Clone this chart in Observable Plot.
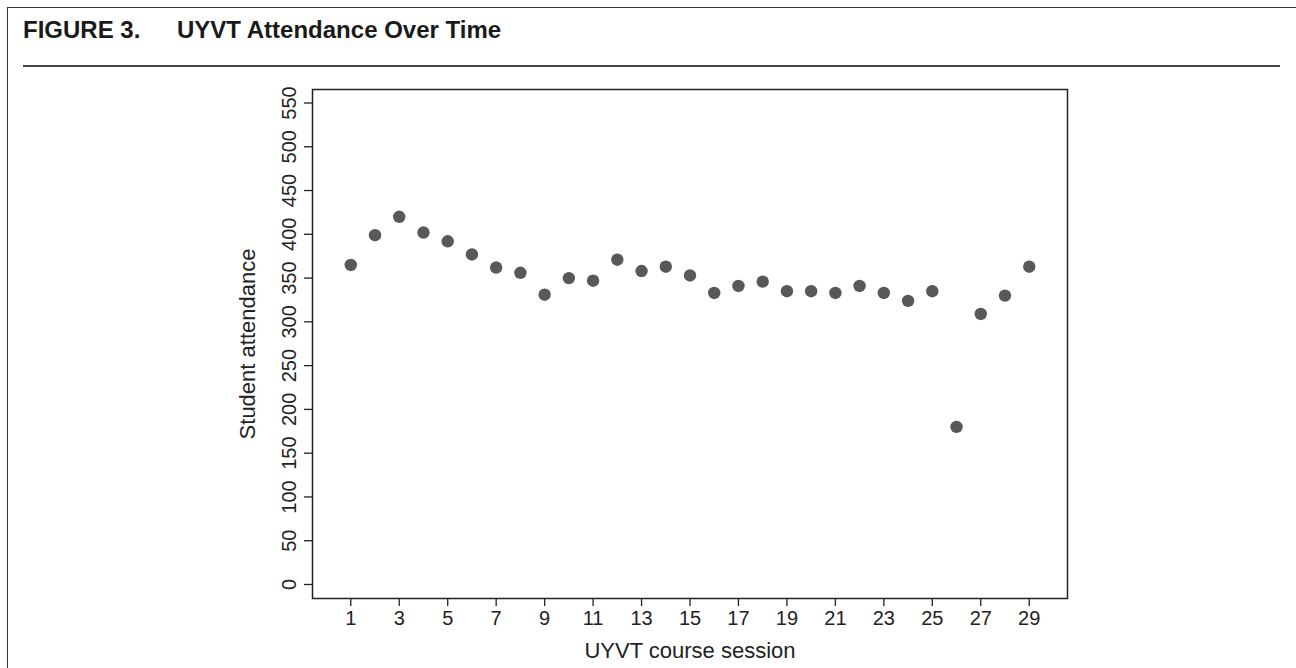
<!DOCTYPE html>
<html><head><meta charset="utf-8">
<script src="https://cdn.jsdelivr.net/npm/d3@7"></script>
<script src="https://cdn.jsdelivr.net/npm/@observablehq/plot@0.6"></script>
<style>
body{margin:0;background:#fff;font-family:"Liberation Sans",Arial,Helvetica,sans-serif;}
#wrap{position:relative;width:1296px;height:668px;overflow:hidden;}
.frame{position:absolute;left:7px;top:7px;right:0;bottom:-5px;border-left:1.5px solid #333;border-top:1.5px solid #333;}
.title{position:absolute;top:18px;font-size:24px;line-height:1;font-weight:bold;color:#1a1a1a;white-space:pre;}
.rule{position:absolute;left:23px;top:65px;width:1257px;height:2px;background:#444;}
#chart{position:absolute;left:0;top:75px;}
</style></head><body>
<div id="wrap">
  <div class="frame"></div>
  <div class="title" style="left:23px">FIGURE 3.</div>
  <div class="title" style="left:177px">UYVT Attendance Over Time</div>
  <div class="rule"></div>
  <div id="chart"></div>
</div>
<script>
const sessions = [1,2,3,4,5,6,7,8,9,10,11,12,13,14,15,16,17,18,19,20,21,22,23,24,25,26,27,28,29];
const attendance = [365,399,420,402,392,377,362,356,331,350,347,371,358,363,353,333,341,346,335,335,333,341,333,324,335,180,309,330,363];
const xTicks = [1,3,5,7,9,11,13,15,17,19,21,23,25,27,29];
const yTicks = [0,50,100,150,200,250,300,350,400,450,500,550];
const xLabel = "UYVT course session";
const yLabel = "Student attendance";

const data = sessions.map((s, i) => ({session: s, attendance: attendance[i]}));

const chart = Plot.plot({
  width: 1296, height: 593,
  marginTop: 14, marginBottom: 70, marginLeft: 312, marginRight: 229,
  style: {fontFamily: "Liberation Sans, Arial, Helvetica, sans-serif", fontSize: "20px", color: "#222", background: "transparent"},
  x: {domain: [-0.58, 30.58]},
  y: {domain: [-16, 565.4]},
  marks: [
    Plot.frame({stroke: "#222", strokeWidth: 1.5}),
    Plot.axisX({ticks: xTicks, tickSize: 8, tickPadding: 4, tickFormat: d => String(d), label: null, stroke: "#222", strokeWidth: 1.3}),
    Plot.axisY({ticks: yTicks, tickSize: 8, tickFormat: () => "", label: null, stroke: "#222", strokeWidth: 1.3}),
    Plot.text(yTicks, {y: d => d, text: d => String(d), frameAnchor: "left", rotate: -90, textAnchor: "middle", lineAnchor: "bottom", dx: -17, fill: "#222"}),
    Plot.text([xLabel], {text: d => d, frameAnchor: "bottom", textAnchor: "middle", lineAnchor: "bottom", dy: 59, fontSize: 22, fill: "#222"}),
    Plot.text([yLabel], {text: d => d, frameAnchor: "left", rotate: -90, textAnchor: "middle", lineAnchor: "middle", dx: -65, fontSize: 22, fill: "#222"}),
    Plot.dot(data, {x: "session", y: "attendance", r: 6.2, fill: "#58585a"})
  ]
});
document.getElementById("chart").append(chart);
</script>
</body></html>
